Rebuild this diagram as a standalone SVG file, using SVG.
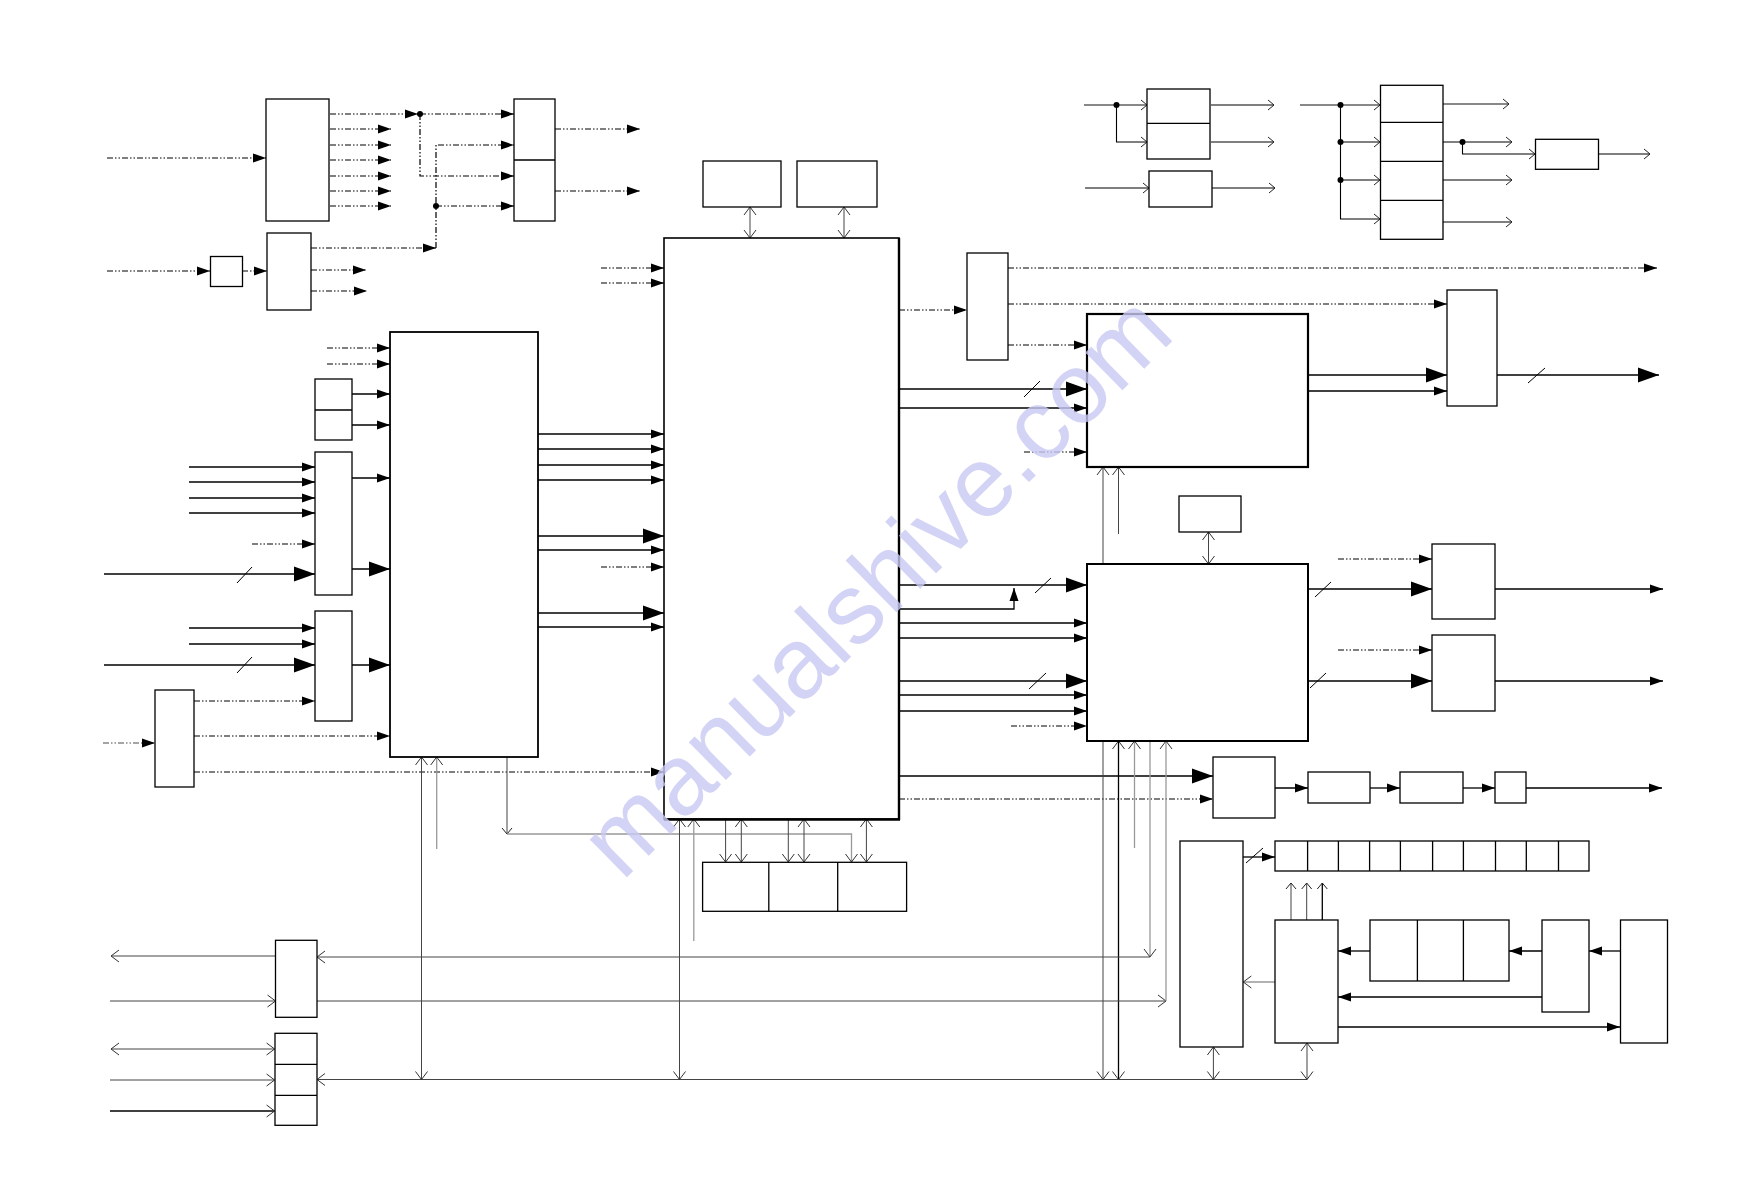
<svg xmlns="http://www.w3.org/2000/svg" width="1743" height="1191" viewBox="0 0 1743 1191">
<style>
.n{fill:#fff;stroke:#000;stroke-width:1.3}
.dv{stroke:#000;stroke-width:1.3;fill:none}
.s{stroke:#000;stroke-width:1.3;fill:none}
.t{stroke:#000;stroke-width:1.6;fill:none}
.d{stroke:#000;stroke-width:1.2;stroke-dasharray:6 2 1.5 2 1.5 2;fill:none}
.dg{stroke:#888;stroke-width:1.4;stroke-dasharray:6 2 1.5 2 1.5 2;fill:none}
.g{stroke:#444;stroke-width:1;fill:none}
.lg{stroke:#999;stroke-width:1.3;fill:none}
.k{stroke:#000;stroke-width:1.1;fill:none}
.kg{stroke:#888;stroke-width:1.8;fill:none}
.sl{stroke:#000;stroke-width:1;fill:none}
.dot{fill:#000}
.wm{font-family:"Liberation Sans",Arial,sans-serif;font-size:100px;fill:#c9c9f4;opacity:0.8}
</style>
<defs>
<marker id="fa" markerUnits="userSpaceOnUse" markerWidth="14" markerHeight="10" refX="13" refY="5" orient="auto"><path d="M0,0.5L13,5L0,9.5z" fill="#000"/></marker>
<marker id="fb" markerUnits="userSpaceOnUse" markerWidth="22" markerHeight="16" refX="21" refY="8" orient="auto"><path d="M0,0.5L21,8L0,15.5z" fill="#000"/></marker>
<marker id="oa" markerUnits="userSpaceOnUse" markerWidth="10" markerHeight="14" refX="8.5" refY="7" orient="auto-start-reverse"><path d="M0.5,1L8.5,7L0.5,13" fill="none" stroke="#333" stroke-width="1"/></marker>
<marker id="os" markerUnits="userSpaceOnUse" markerWidth="8" markerHeight="12" refX="6.5" refY="6" orient="auto-start-reverse"><path d="M0.5,1L6.5,6L0.5,11" fill="none" stroke="#222" stroke-width="1"/></marker>
</defs>
<rect width="1743" height="1191" fill="#fff"/>

<g id="connectors">
<path class="d" d="M107,158H266" marker-end="url(#fa)"/>
<path class="d" d="M330,114H418" marker-end="url(#fa)"/>
<path class="d" d="M420,114H514" marker-end="url(#fa)"/>
<path class="d" d="M420,114V176H514" marker-end="url(#fa)"/>
<path class="d" d="M330,129H391" marker-end="url(#fa)"/>
<path class="d" d="M330,145H391" marker-end="url(#fa)"/>
<path class="d" d="M330,160H391" marker-end="url(#fa)"/>
<path class="d" d="M330,176H391" marker-end="url(#fa)"/>
<path class="d" d="M330,191H391" marker-end="url(#fa)"/>
<path class="d" d="M330,206H391" marker-end="url(#fa)"/>
<path class="d" d="M311,248H436" marker-end="url(#fa)"/>
<path class="d" d="M436,248V145H514" marker-end="url(#fa)"/>
<path class="d" d="M436,206H514" marker-end="url(#fa)"/>
<path class="d" d="M311,270H366" marker-end="url(#fa)"/>
<path class="d" d="M311,291H367" marker-end="url(#fa)"/>
<path class="d" d="M107,271H210" marker-end="url(#fa)"/>
<path class="d" d="M242,271H267" marker-end="url(#fa)"/>
<path class="d" d="M555,129H640" marker-end="url(#fa)"/>
<path class="d" d="M555,191H640" marker-end="url(#fa)"/>
<path class="d" d="M601,268H664" marker-end="url(#fa)"/>
<path class="d" d="M601,283H664" marker-end="url(#fa)"/>
<path class="d" d="M327,348H390" marker-end="url(#fa)"/>
<path class="d" d="M327,364H390" marker-end="url(#fa)"/>
<path class="d" d="M252,544H315" marker-end="url(#fa)"/>
<path class="d" d="M194,701H315" marker-end="url(#fa)"/>
<path class="dg" d="M103,743H155" marker-end="url(#fa)"/>
<path class="d" d="M194,736H390" marker-end="url(#fa)"/>
<path class="d" d="M194,772H664" marker-end="url(#fa)"/>
<path class="d" d="M601,567H664" marker-end="url(#fa)"/>
<path class="d" d="M899,310H967" marker-end="url(#fa)"/>
<path class="d" d="M1008,268H1657" marker-end="url(#fa)"/>
<path class="d" d="M1008,304H1447" marker-end="url(#fa)"/>
<path class="d" d="M1008,345H1087" marker-end="url(#fa)"/>
<path class="d" d="M1024,452H1087" marker-end="url(#fa)"/>
<path class="d" d="M1338,559H1432" marker-end="url(#fa)"/>
<path class="d" d="M1338,650H1432" marker-end="url(#fa)"/>
<path class="d" d="M1011,726H1087" marker-end="url(#fa)"/>
<path class="d" d="M899,799H1213" marker-end="url(#fa)"/>

<path class="s" d="M352,394H390" marker-end="url(#fa)"/>
<path class="s" d="M352,425H390" marker-end="url(#fa)"/>
<path class="s" d="M189,467H315" marker-end="url(#fa)"/>
<path class="s" d="M189,482H315" marker-end="url(#fa)"/>
<path class="s" d="M189,498H315" marker-end="url(#fa)"/>
<path class="s" d="M189,513H315" marker-end="url(#fa)"/>
<path class="s" d="M352,478H390" marker-end="url(#fa)"/>
<path class="s" d="M189,628H315" marker-end="url(#fa)"/>
<path class="s" d="M189,644H315" marker-end="url(#fa)"/>
<path class="t" d="M104,574H315" marker-end="url(#fb)"/>
<path class="sl" d="M237,583L252,567"/>
<path class="t" d="M352,569H390" marker-end="url(#fb)"/>
<path class="t" d="M104,665H315" marker-end="url(#fb)"/>
<path class="sl" d="M237,673L252,657"/>
<path class="t" d="M352,665H390" marker-end="url(#fb)"/>
<path class="s" d="M538,434H664" marker-end="url(#fa)"/>
<path class="s" d="M538,449H664" marker-end="url(#fa)"/>
<path class="s" d="M538,465H664" marker-end="url(#fa)"/>
<path class="s" d="M538,480H664" marker-end="url(#fa)"/>
<path class="t" d="M538,536H664" marker-end="url(#fb)"/>
<path class="s" d="M538,550H664" marker-end="url(#fa)"/>
<path class="t" d="M538,613H664" marker-end="url(#fb)"/>
<path class="s" d="M538,627H664" marker-end="url(#fa)"/>
<path class="t" d="M899,389H1087" marker-end="url(#fb)"/>
<path class="sl" d="M1024,397L1040,381"/>
<path class="s" d="M899,408H1087" marker-end="url(#fa)"/>
<path class="t" d="M1308,375H1447" marker-end="url(#fb)"/>
<path class="s" d="M1308,391H1447" marker-end="url(#fa)"/>
<path class="t" d="M1497,375H1659" marker-end="url(#fb)"/>
<path class="sl" d="M1528,383L1545,368"/>
<path class="t" d="M899,585H1087" marker-end="url(#fb)"/>
<path class="sl" d="M1035,593L1051,578"/>
<path class="s" d="M899,609H1014V588" marker-end="url(#fa)"/>
<path class="s" d="M899,623H1087" marker-end="url(#fa)"/>
<path class="s" d="M899,638H1087" marker-end="url(#fa)"/>
<path class="t" d="M899,681H1087" marker-end="url(#fb)"/>
<path class="sl" d="M1029,689L1046,673"/>
<path class="s" d="M899,695H1087" marker-end="url(#fa)"/>
<path class="s" d="M899,711H1087" marker-end="url(#fa)"/>
<path class="t" d="M1308,589H1432" marker-end="url(#fb)"/>
<path class="sl" d="M1315,597L1331,582"/>
<path class="t" d="M1308,681H1432" marker-end="url(#fb)"/>
<path class="sl" d="M1310,688L1326,673"/>
<path class="s" d="M1495,589H1663" marker-end="url(#fa)"/>
<path class="s" d="M1495,681H1663" marker-end="url(#fa)"/>
<path class="t" d="M899,776H1213" marker-end="url(#fb)"/>
<path class="s" d="M1275,788H1308" marker-end="url(#fa)"/>
<path class="s" d="M1370,788H1400" marker-end="url(#fa)"/>
<path class="s" d="M1463,788H1495" marker-end="url(#fa)"/>
<path class="s" d="M1526,788H1662" marker-end="url(#fa)"/>
<path class="s" d="M1243,857H1275" marker-end="url(#fa)"/>
<path class="sl" d="M1246,863L1263,848"/>
<path class="s" d="M1620,951H1589" marker-end="url(#fa)"/>
<path class="s" d="M1542,951H1509" marker-end="url(#fa)"/>
<path class="s" d="M1370,951H1338" marker-end="url(#fa)"/>
<path class="s" d="M1542,997H1338" marker-end="url(#fa)"/>
<path class="s" d="M1338,1027H1620" marker-end="url(#fa)"/>

<path class="kg" d="M1084,105H1147" marker-end="url(#os)"/>
<path class="k" d="M1116.5,105V142H1147" marker-end="url(#os)"/>
<path class="k" d="M1211,105H1274" marker-end="url(#os)"/>
<path class="k" d="M1211,142H1274" marker-end="url(#os)"/>
<path class="k" d="M1085,188H1149" marker-end="url(#os)"/>
<path class="k" d="M1212,188H1275" marker-end="url(#os)"/>
<path class="kg" d="M1300,105H1380" marker-end="url(#os)"/>
<path class="k" d="M1340.5,105V219H1380" marker-end="url(#os)"/>
<path class="k" d="M1340.5,142H1380" marker-end="url(#os)"/>
<path class="k" d="M1340.5,180H1380" marker-end="url(#os)"/>
<path class="kg" d="M1443,104H1509" marker-end="url(#os)"/>
<path class="k" d="M1443,142H1512" marker-end="url(#os)"/>
<path class="k" d="M1443,180H1512" marker-end="url(#os)"/>
<path class="k" d="M1443,222H1512" marker-end="url(#os)"/>
<path class="k" d="M1462.5,142V154H1535" marker-end="url(#os)"/>
<path class="k" d="M1598,154H1650" marker-end="url(#os)"/>

<path class="g" d="M750,207V238" marker-start="url(#oa)" marker-end="url(#oa)"/>
<path class="g" d="M844,207V238" marker-start="url(#oa)" marker-end="url(#oa)"/>
<path class="g" d="M1208.5,532V564" marker-start="url(#oa)" marker-end="url(#oa)"/>
<path class="g" d="M1103,467V1079.5" marker-start="url(#oa)" marker-end="url(#oa)"/>
<path class="g" d="M1118.5,534V467" marker-end="url(#oa)"/>
<path class="s" d="M1118.5,741V1079.5" marker-start="url(#oa)" marker-end="url(#oa)"/>
<path class="lg" d="M1134.5,848V741" marker-end="url(#oa)"/>
<path class="lg" d="M1150,741V957" marker-end="url(#oa)"/>
<path class="g" d="M1150,957H317" marker-end="url(#oa)"/>
<path class="g" d="M317,1001H1166" marker-end="url(#oa)"/>
<path class="lg" d="M1166,1001V741" marker-end="url(#oa)"/>
<path class="g" d="M275.5,956H111" marker-end="url(#oa)"/>
<path class="g" d="M110,1001H275.5" marker-end="url(#oa)"/>
<path class="g" d="M111,1049H274.6" marker-start="url(#oa)" marker-end="url(#oa)"/>
<path class="g" d="M110,1080H274.6" marker-end="url(#oa)"/>
<path class="s" d="M110,1111H274.6" marker-end="url(#oa)"/>
<path class="g" d="M1307,1079.5H317" marker-end="url(#oa)"/>
<path class="g" d="M421.5,757V1079.5" marker-start="url(#oa)" marker-end="url(#oa)"/>
<path class="lg" d="M436.7,849V757" marker-end="url(#oa)"/>
<path class="g" d="M507,757V834" marker-end="url(#os)"/>
<path class="lg" d="M507,834H851.5V862" marker-end="url(#oa)"/>
<path class="g" d="M679.5,819V1079.5" marker-start="url(#oa)" marker-end="url(#oa)"/>
<path class="lg" d="M693.8,941V819" marker-end="url(#oa)"/>
<path class="g" d="M725.6,819V862" marker-end="url(#oa)"/>
<path class="g" d="M741.3,819V862" marker-start="url(#oa)" marker-end="url(#oa)"/>
<path class="g" d="M788.3,819V862" marker-end="url(#oa)"/>
<path class="g" d="M804,819V862" marker-start="url(#oa)" marker-end="url(#oa)"/>
<path class="g" d="M866.4,819V862" marker-start="url(#oa)" marker-end="url(#oa)"/>
<path class="g" d="M1213.4,1047V1079.5" marker-start="url(#oa)" marker-end="url(#oa)"/>
<path class="g" d="M1307,1043V1079.5" marker-start="url(#oa)" marker-end="url(#oa)"/>
<path class="g" d="M1291,920V883" marker-end="url(#os)"/>
<path class="g" d="M1306.7,920V883" marker-end="url(#os)"/>
<path class="s" d="M1322.3,920V883" marker-end="url(#os)"/>
<path class="lg" d="M1275.4,982H1243.3" marker-end="url(#oa)"/>

<circle class="dot" cx="420" cy="114" r="3"/>
<circle class="dot" cx="436" cy="206" r="3"/>
<circle class="dot" cx="1116.5" cy="105" r="3"/>
<circle class="dot" cx="1340.5" cy="105" r="3"/>
<circle class="dot" cx="1340.5" cy="142" r="3"/>
<circle class="dot" cx="1340.5" cy="180" r="3"/>
<circle class="dot" cx="1462.5" cy="142" r="3"/>
</g>

<g id="nodes">
<g id="n-a"><rect class="n" x="266" y="99" width="63" height="122"/></g>
<g id="n-b"><rect class="n" x="514" y="99" width="41" height="122"/><path class="dv" d="M514,160H555"/></g>
<g id="n-c"><rect class="n" x="267" y="233" width="44" height="77"/></g>
<g id="n-d"><rect class="n" x="210.5" y="256.5" width="32" height="30"/></g>
<g id="n-j1"><rect class="n" x="703" y="161" width="78" height="46"/></g>
<g id="n-j2"><rect class="n" x="797" y="161" width="80" height="46"/></g>
<g id="n-m"><rect class="n" x="664" y="238" width="235" height="581" style="stroke-width:1.6"/><path d="M899,238V820M664,819.5H900" stroke="#000" stroke-width="2.4"/></g>
<g id="n-e"><rect class="n" x="390" y="332" width="148" height="425" style="stroke-width:1.8"/></g>
<g id="n-f"><rect class="n" x="315" y="379" width="37" height="61"/><path class="dv" d="M315,410H352"/></g>
<g id="n-g"><rect class="n" x="315" y="452" width="37" height="143"/></g>
<g id="n-h"><rect class="n" x="315" y="611" width="37" height="110"/></g>
<g id="n-i"><rect class="n" x="155" y="690" width="39" height="97"/></g>
<g id="n-k"><rect class="n" x="967" y="253" width="41" height="107"/></g>
<g id="n-n"><rect class="n" x="1087" y="314" width="221" height="153" style="stroke-width:2.2"/></g>
<g id="n-p"><rect class="n" x="1447" y="290" width="50" height="116"/></g>
<g id="n-r"><rect class="n" x="1179" y="496" width="62" height="36"/></g>
<g id="n-q"><rect class="n" x="1087" y="564" width="221" height="177" style="stroke-width:2"/></g>
<g id="n-s"><rect class="n" x="1432" y="544" width="63" height="75"/></g>
<g id="n-t"><rect class="n" x="1432" y="635" width="63" height="76"/></g>
<g id="n-u"><rect class="n" x="1213" y="757" width="62" height="61"/></g>
<g id="n-w"><rect class="n" x="1308" y="772" width="62" height="31"/></g>
<g id="n-x"><rect class="n" x="1400" y="772" width="63" height="31"/></g>
<g id="n-y"><rect class="n" x="1495" y="772" width="31" height="31"/></g>
<g id="n-z"><rect class="n" x="1180" y="841" width="63" height="206"/></g>
<g id="n-cells"><rect class="n" x="1275" y="841" width="314" height="30"/><path class="dv" d="M1307.6,841V871M1338.4,841V871M1369.6,841V871M1400.4,841V871M1432.6,841V871M1463.4,841V871M1495.5,841V871M1526.3,841V871M1558.5,841V871"/></g>
<g id="n-aa"><rect class="n" x="1275" y="920" width="63" height="123"/></g>
<g id="n-ab"><rect class="n" x="1370" y="920" width="139" height="61"/><path class="dv" d="M1417.4,920V981M1463.4,920V981"/></g>
<g id="n-ac"><rect class="n" x="1542" y="920" width="47" height="92"/></g>
<g id="n-ad"><rect class="n" x="1620.5" y="920" width="47" height="123"/></g>
<g id="n-mem"><rect class="n" x="702.6" y="862.3" width="204" height="49"/><path class="dv" d="M768.8,862.3V911.3M837.7,862.3V911.3"/></g>
<g id="n-v"><rect class="n" x="275.5" y="940.3" width="41.5" height="77"/></g>
<g id="n-w123"><rect class="n" x="275" y="1033.3" width="42" height="92"/><path class="dv" d="M275,1064.3H317M275,1095.3H317"/></g>
<g id="n-ba"><rect class="n" x="1147" y="89" width="63" height="70"/><path class="dv" d="M1147,123.3H1210"/></g>
<g id="n-bb"><rect class="n" x="1149" y="171" width="63" height="36"/></g>
<g id="n-bc"><rect class="n" x="1380.5" y="85.3" width="62.5" height="154"/><path class="dv" d="M1380.5,122.3H1443M1380.5,161.3H1443M1380.5,200.3H1443"/></g>
<g id="n-bd"><rect class="n" x="1535.5" y="139.3" width="63" height="30"/></g>
</g>

<text class="wm" x="622" y="882" transform="rotate(-44.5 622 882)">manualshive.com</text>
</svg>
